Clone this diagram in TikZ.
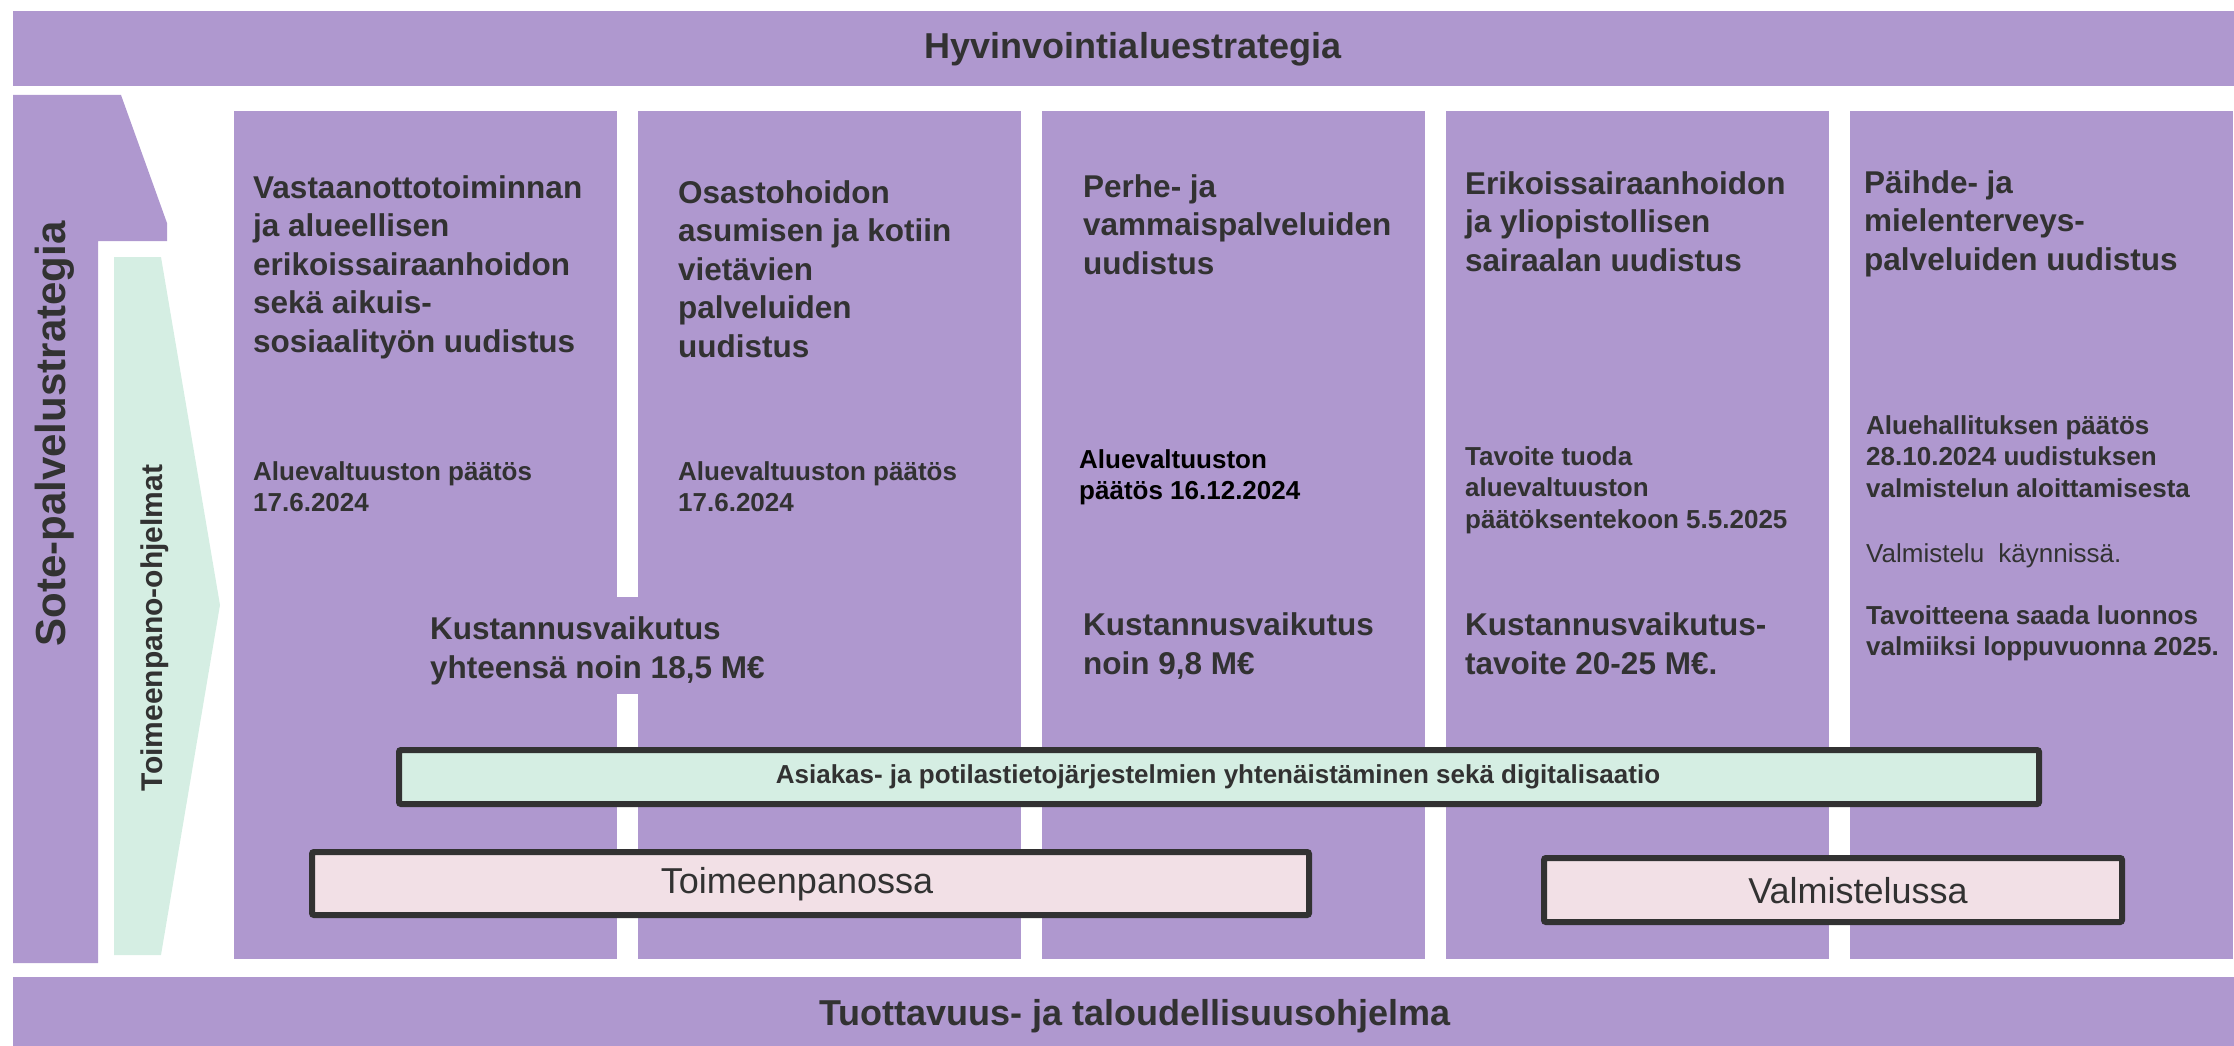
\documentclass[tikz,border=0pt]{standalone}
\usepackage{fontspec}
\setmainfont{Liberation Sans}
\definecolor{lav}{RGB}{175,152,207}
\definecolor{mint}{RGB}{213,238,227}
\definecolor{rose}{RGB}{242,224,230}
\definecolor{ink}{RGB}{50,50,50}
\begin{document}
\begin{tikzpicture}[x=1pt,y=-1pt,
  bandtxt/.style={inner sep=0, text=ink, font=\bfseries\fontsize{36}{40}\selectfont},
  headtxt/.style={anchor=north west, inner sep=0, align=left, text=ink, font=\bfseries\fontsize{31.5}{38.5}\selectfont},
  costtxt/.style={anchor=north west, inner sep=0, align=left, text=ink, font=\bfseries\fontsize{31.5}{39}\selectfont},
  dectxt/.style={anchor=north west, inner sep=0, align=left, text=ink, font=\bfseries\fontsize{26}{31.5}\selectfont},
  bar/.style={draw=ink, line width=6pt, rounded corners=2pt, inner sep=0},
  boxtxt/.style={inner sep=0, text=ink, font=\fontsize{36}{40}\selectfont},
]
\useasboundingbox (0,0) rectangle (2234,1046);
% bands
\fill[lav] (13,11) rectangle (2234,86);
\node[bandtxt] (topt) at (1133,49) {Hyvinvointialuestrategia};
\fill[lav] (13,977) rectangle (2234,1046);
\node[bandtxt] (bott) at (1135,1016) {Tuottavuus- ja taloudellisuusohjelma};
% Sote shape
\fill[lav] (13,95) -- (121,95) -- (167,223) -- (167,241) -- (98,241) -- (98,963) -- (13,963) -- cycle;
\node[rotate=90, anchor=base, inner sep=0, text=ink, font=\bfseries\fontsize{42}{44}\selectfont] (sote) at (65,434) {Sote-palvelustrategia};
% Toimeenpano arrow
\fill[mint] (114,257) -- (161,257) -- (220,605) -- (161,955) -- (114,955) -- cycle;
\node[rotate=90, anchor=base, inner sep=0, text=ink, font=\bfseries\fontsize{30}{34}\selectfont] (toim) at (162,628) {Toimeenpano-ohjelmat};
% columns
\foreach \i in {0,...,4} {
  \fill[lav] ({234+404*\i},111) rectangle ({617+404*\i},959);
}
\fill[lav] (616,597) rectangle (639,694);
% column headings
\node[headtxt] (h1) at (253,175) {Vastaanottotoiminnan\\ja alueellisen\\erikoissairaanhoidon\\sekä aikuis-\\sosiaalityön uudistus};
\node[headtxt] (h2) at (678,180) {Osastohoidon\\asumisen ja kotiin\\vietävien\\palveluiden\\uudistus};
\node[headtxt] (h3) at (1083,174) {Perhe- ja\\vammaispalveluiden\\uudistus};
\node[headtxt] (h4) at (1465,171) {Erikoissairaanhoidon\\ja yliopistollisen\\sairaalan uudistus};
\node[headtxt] (h5) at (1864,170) {Päihde- ja\\mielenterveys-\\palveluiden uudistus};
% decisions
\node[dectxt] (d1) at (253,461) {Aluevaltuuston päätös\\17.6.2024};
\node[dectxt] (d2) at (678,461) {Aluevaltuuston päätös\\17.6.2024};
\node[dectxt, text=black] (d3) at (1079,449) {Aluevaltuuston\\päätös 16.12.2024};
\node[dectxt] (d4) at (1465,446) {Tavoite tuoda\\aluevaltuuston\\päätöksentekoon 5.5.2025};
\node[dectxt] (d5) at (1866,415) {Aluehallituksen päätös\\28.10.2024 uudistuksen\\valmistelun aloittamisesta};
\node[anchor=base west, inner sep=0, text=ink, font=\fontsize{26}{31}\selectfont] (d5b) at (1866,562) {Valmistelu\hspace{0.55em}käynnissä.};
\node[dectxt] (d5c) at (1866,605) {Tavoitteena saada luonnos\\valmiiksi loppuvuonna 2025.};
% costs
\node[costtxt] (k1) at (430,616) {Kustannusvaikutus\\yhteensä noin 18,5 M€};
\node[costtxt] (k3) at (1083,612) {Kustannusvaikutus\\noin 9,8 M€};
\node[costtxt] (k4) at (1465,612) {Kustannusvaikutus-\\tavoite 20-25 M€.};
% bars
\node[bar, fill=mint, minimum width=1640pt, minimum height=54pt] (dig) at (1219,777) {};
\node[inner sep=0, text=ink, font=\bfseries\fontsize{26}{30}\selectfont] (digt) at (1218,777) {Asiakas- ja potilastietojärjestelmien yhtenäistäminen sekä digitalisaatio};
\node[bar, fill=rose, minimum width=997pt, minimum height=63pt] (tp) at (810.5,883.5) {};
\node[boxtxt] (tpt) at (797,884) {Toimeenpanossa};
\node[bar, fill=rose, minimum width=578pt, minimum height=64pt] (vm) at (1833,890) {};
\node[boxtxt] (vmt) at (1858,891) {Valmistelussa};
\end{tikzpicture}
\end{document}
